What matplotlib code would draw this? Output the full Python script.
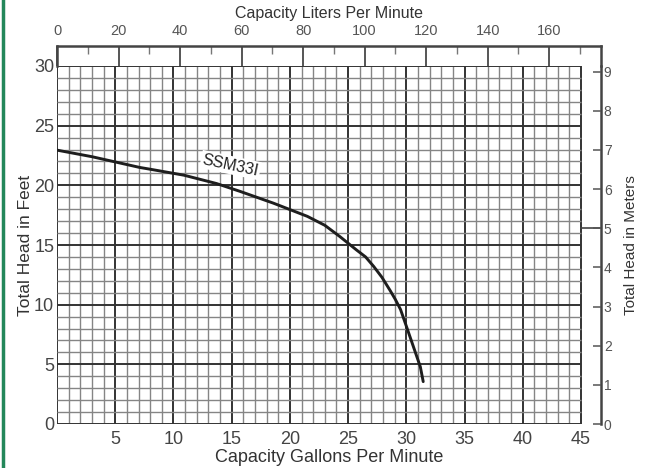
import matplotlib
matplotlib.use("Agg")
import matplotlib.pyplot as plt
from matplotlib.lines import Line2D

plt.rcParams['font.family'] = ['Liberation Sans', 'DejaVu Sans']

# pump curve SSM33I
flow_gpm = [0, 3, 7.1, 8.0, 10.9, 13.7, 15.7, 18.6, 21.5, 23.0, 24.3, 25.7, 26.5,
            27.2, 27.9, 28.6, 29.05, 29.5, 30.0, 30.6, 31.2, 31.45]
head_ft = [22.95, 22.4, 21.5, 21.35, 20.85, 20.15, 19.5, 18.5, 17.4, 16.65, 15.7, 14.6,
           14.0, 13.2, 12.3, 11.2, 10.45, 9.6, 8.2, 6.5, 4.8, 3.55]
curve_name = "SSM33I"

gpm_ticks = [5, 10, 15, 20, 25, 30, 35, 40, 45]
feet_ticks = [0, 5, 10, 15, 20, 25, 30]
lpm_ticks = [0, 20, 40, 60, 80, 100, 120, 140, 160]
meter_ticks = [0, 1, 2, 3, 4, 5, 6, 7, 8, 9]

GAL_TO_L = 3.785
FT_TO_M = 0.3048

W, H = 646, 468
fig = plt.figure(figsize=(W / 100, H / 100), dpi=100)
fig.patch.set_facecolor('white')

def px_box(x0, y0, x1, y1):
    return [x0 / W, 1 - y1 / H, (x1 - x0) / W, (y1 - y0) / H]

gx0, gx1, gy0, gy1 = 57, 581, 66, 424
xr = 601
gal_per_px = 45 / (gx1 - gx0)
xmax = 45 + (xr - gx1) * gal_per_px

ax = fig.add_axes(px_box(gx0, gy0, xr, gy1))
ax.set_xlim(0, xmax)
ax.set_ylim(0, 30)
ax.set_facecolor('none')
for s in ['top', 'left', 'bottom']:
    ax.spines[s].set_visible(False)
ax.spines['right'].set_color('#444444')
ax.spines['right'].set_linewidth(1.8)

# graph paper grid
for g in range(0, 46):
    major = g % 5 == 0
    ax.plot([g, g], [0, 30], color='#333333' if major else '#858585',
            lw=1.4 if major else 1.0, zorder=1, solid_capstyle='butt')
for f in range(0, 31):
    major = f % 5 == 0
    ax.plot([0, 45], [f, f], color='#333333' if major else '#858585',
            lw=1.4 if major else 1.0, zorder=1, solid_capstyle='butt')

ax.plot(flow_gpm, head_ft, color='#1e1e1e', lw=2.1, zorder=3,
        solid_joinstyle='round', solid_capstyle='round')
ax.text(14.9, 21.7, curve_name, rotation=-12, fontsize=11.5, color='#222222',
        ha='center', va='center', zorder=4,
        bbox=dict(facecolor='white', edgecolor='none', pad=1.2))

# longer 5 m tick reaching the grid
ax.plot([45, xmax], [5 / FT_TO_M, 5 / FT_TO_M], color='#444444', lw=1.2, zorder=2)

ax.set_xticks(gpm_ticks)
ax.set_yticks(feet_ticks)
ax.tick_params(axis='x', length=0, pad=5, labelsize=13, colors='#444444')
ax.tick_params(axis='y', left=True, right=False, length=0, pad=2, labelsize=13,
               colors='#444444')
ax.set_xlabel("Capacity Gallons Per Minute", fontsize=13, color='#333333', labelpad=1)
ax.set_ylabel("Total Head in Feet", fontsize=12.5, color='#333333', labelpad=1)

# meters on the right
axm = ax.twinx()
axm.set_ylim(0, 30 * FT_TO_M)
for s in ['top', 'left', 'bottom', 'right']:
    axm.spines[s].set_visible(False)
axm.set_yticks(meter_ticks)
axm.tick_params(axis='y', direction='in', length=6, width=1.1, pad=2,
                labelsize=10, colors='#555555')
axm.set_ylabel("Total Head in Meters", fontsize=11, color='#333333',
               labelpad=9, rotation=90)

# liters scale box on top
axt = fig.add_axes(px_box(gx0, 46, xr, gy0))
axt.set_xlim(0, xmax * GAL_TO_L)
axt.set_ylim(0, 1)
axt.set_facecolor('none')
axt.spines['bottom'].set_visible(False)
for s in ['top', 'left', 'right']:
    axt.spines[s].set_color('#444444')
    axt.spines[s].set_linewidth(1.8)
axt.set_yticks([])
axt.xaxis.set_ticks_position('top')
axt.xaxis.set_label_position('top')
axt.set_xticks(lpm_ticks)
axt.set_xticks([t + 10 for t in lpm_ticks], minor=True)
axt.tick_params(axis='x', which='major', direction='in', length=14.4, width=1.4,
                pad=6, labelsize=10.5, colors='#555555')
axt.tick_params(axis='x', which='minor', direction='in', length=6, width=1.0,
                colors='#777777')
axt.set_xlabel("Capacity Liters Per Minute", fontsize=11.5, color='#333333', labelpad=4)

# green frame edge on the left
fig.add_artist(Line2D([3 / W, 3 / W], [0, 1], color='#23875a', lw=2.5,
                      transform=fig.transFigure))

fig.savefig("out.png", dpi=100)
